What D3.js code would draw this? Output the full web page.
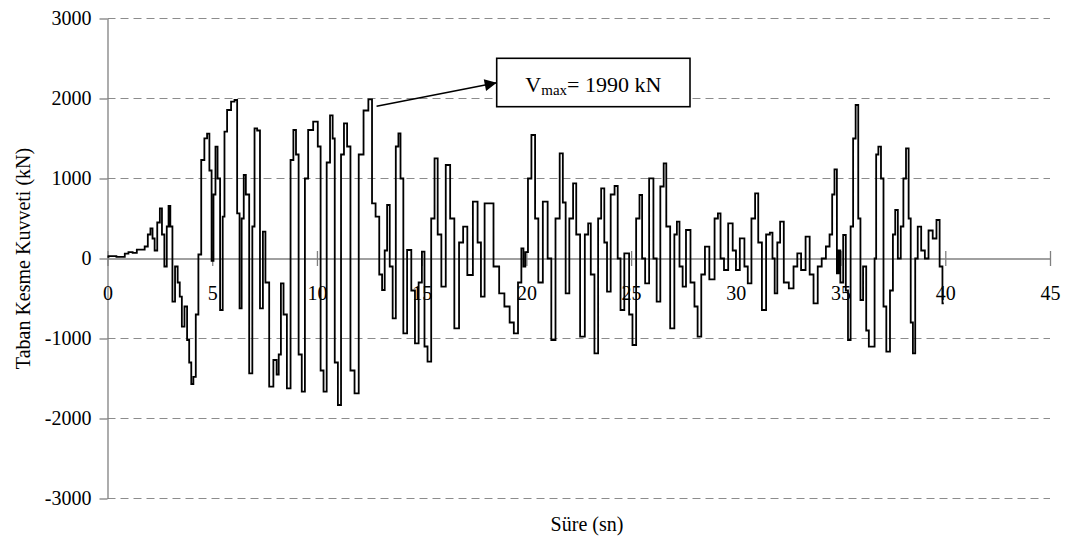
<!DOCTYPE html>
<html>
<head>
<meta charset="utf-8">
<script src="https://cdn.jsdelivr.net/npm/d3@7"></script>
<style>
  body { margin: 0; background: #fff; }
  svg text { font-family: "Liberation Serif", "Times New Roman", serif; }
</style>
</head>
<body>
<div id="chart"></div>
<script>
// time (s) and base shear (kN), turning points
var timeSec = [0, 0.1, 0.75, 0.9, 1.1, 1.3, 1.5, 1.7, 1.85, 2.0, 2.1, 2.2, 2.3, 2.45, 2.55, 2.65, 2.78, 2.88, 2.95, 3.05,
  3.15, 3.3, 3.4, 3.5, 3.6, 3.75, 3.85, 3.95, 4.05, 4.15, 4.28, 4.4, 4.55, 4.7, 4.81, 4.92, 5.02, 5.1, 5.21, 5.3,
  5.45, 5.55, 5.62, 5.8, 6.0, 6.13, 6.25, 6.36, 6.45, 6.56, 6.65, 6.88, 6.95, 7.09, 7.2, 7.36, 7.48, 7.6, 7.84, 8.0,
  8.15, 8.2, 8.36, 8.45, 8.68, 8.8, 8.95, 9.05, 9.2, 9.35, 9.5, 9.66, 9.98, 10.1, 10.25, 10.38, 10.55, 10.7, 10.8, 10.9,
  11.1, 11.2, 11.38, 11.5, 11.7, 11.89, 12.1, 12.35, 12.56, 12.7, 12.9, 13.05, 13.17, 13.3, 13.4, 13.55, 13.68, 13.85, 13.93, 14.05,
  14.2, 14.41, 14.6, 14.76, 14.95, 15.07, 15.2, 15.36, 15.55, 15.68, 15.85, 16.03, 16.27, 16.45, 16.67, 16.9, 17.06, 17.3, 17.59, 17.75,
  17.91, 18.1, 18.26, 18.6, 18.8, 19.1, 19.3, 19.5, 19.7, 19.82, 19.9, 20.0, 20.15, 20.33, 20.5, 20.64, 20.93, 21.1, 21.28, 21.5,
  21.68, 21.8, 21.95, 22.15, 22.31, 22.45, 22.68, 22.9, 23.0, 23.15, 23.35, 23.5, 23.64, 23.8, 23.9, 24.15, 24.27, 24.45, 24.54, 24.81,
  25.0, 25.13, 25.35, 25.45, 25.6, 25.74, 25.98, 26.15, 26.29, 26.5, 26.61, 26.75, 26.98, 27.15, 27.22, 27.4, 27.52, 27.72, 27.95, 28.1,
  28.25, 28.45, 28.6, 28.87, 29.1, 29.19, 29.35, 29.52, 29.75, 29.95, 30.06, 30.32, 30.5, 30.64, 30.85, 30.99, 31.15, 31.34, 31.55, 31.7,
  31.8, 31.91, 32.05, 32.18, 32.4, 32.66, 32.85, 33.02, 33.21, 33.45, 33.6, 33.82, 34.0, 34.2, 34.4, 34.55, 34.65, 34.77, 34.88, 34.93,
  35.05, 35.2, 35.3, 35.41, 35.55, 35.65, 35.79, 35.9, 36.0, 36.15, 36.3, 36.4, 36.6, 36.65, 36.75, 36.86, 37.0, 37.1, 37.27, 37.45,
  37.55, 37.67, 37.8, 37.95, 38.05, 38.2, 38.3, 38.4, 38.51, 38.62, 38.75, 38.95, 39.1, 39.3, 39.5, 39.66, 39.8, 39.93];
var shearKN = [20, 30, 20, 60, 80, 70, 110, 110, 150, 300, 377, 250, 100, 450, 627, 300, -100, 400, 656, 400,
  -540, -100, -300, -477, -852, -600, -1019, -1300, -1569, -1480, -700, 50, 1231, 1502, 1560, 1100, -30, 800, 1398, 1000,
  -644, 523, 1585, 1856, 1960, 1981, 565, -623, 500, 1044, 800, -1435, 400, 1627, 1600, -623, 335, -300, -1602, -1269,
  -1450, -1200, -310, -700, -1623, 1231, 1606, 1300, -1200, -1665, 1000, 1606, 1710, 1400, -1400, -1665, 1200, 1790, 1500, -1300,
  -1831, 1300, 1690, 1400, -1400, -1685, 1300, 1850, 1990, 690, 523, -200, -394, 100, 669, -100, -748, 1400, 1565, 1000,
  -935, 106, -400, -1060, -300, 85, -1100, -1290, 500, 1252, 300, -352, 1169, 500, -873, 200, 398, -206, 710, 200,
  -477, 690, 690, -100, -435, -600, -800, -935, -300, 127, -100, 80, 1000, 1544, 500, -300, 710, 0, -1019, 500,
  1315, 700, -435, 500, 940, 300, -977, 300, 440, -200, -1185, 500, 877, 200, -415, 800, 906, 0, -644, 65,
  -700, -1081, 500, 794, 0, -310, 1002, 0, -540, 900, 1190, 400, -873, 300, 460, -100, -352, 356, -300, -600,
  -977, -200, 148, -260, 500, 565, 0, -144, 440, 100, -144, 252, -100, -310, 500, 815, 200, -644, 300, 323,
  0, -435, 200, 460, -300, -373, -100, 65, -144, 273, -200, -560, -100, 0, 150, 300, 800, 1115, -185, 100,
  -300, 294, -400, -1019, 400, 1500, 1919, 500, -519, -100, -900, -1102, -1102, 0, 1300, 1398, 1000, -600, -1165, -400,
  300, 606, 0, 400, 1000, 1377, 500, -800, -1185, 0, 398, 100, 0, 350, 250, 481, -100, -560];

var xTicks = [0, 5, 10, 15, 20, 25, 30, 35, 40, 45];
var yTicks = [-3000, -2000, -1000, 0, 1000, 2000, 3000];
var peakTime = 12.56, peakValue = 1990;

var width = 1072, height = 538;

var svg = d3.select("#chart").append("svg")
  .attr("width", width)
  .attr("height", height);

var x = d3.scaleLinear().domain([0, 45]).range([107.5, 1050]);
var y = d3.scaleLinear().domain([-3000, 3000]).range([498.5, 18.5]);

// dashed grid
svg.append("g")
  .selectAll("line")
  .data(yTicks.filter(function(d) { return d !== 0; }))
  .enter().append("line")
    .attr("x1", x(0))
    .attr("x2", x(45))
    .attr("y1", function(d) { return y(d); })
    .attr("y2", function(d) { return y(d); })
    .attr("stroke", "#8c8c8c")
    .attr("stroke-width", 1)
    .attr("stroke-dasharray", "8,5");

// y axis
var yAxis = svg.append("g")
  .attr("transform", "translate(" + x(0) + ",0)")
  .call(d3.axisLeft(y).tickValues(yTicks).tickSize(8).tickPadding(8).tickSizeOuter(0)
    .tickFormat(function(d) { return String(d); }));
yAxis.select(".domain").attr("stroke", "#808080").attr("stroke-width", 1.3);
yAxis.selectAll(".tick line").attr("stroke", "#808080").attr("stroke-width", 1.3);
yAxis.selectAll(".tick text")
  .style("font-size", "20px")
  .attr("fill", "#000");

// x axis crossing at zero
var xAxis = svg.append("g")
  .attr("transform", "translate(0," + y(0) + ")")
  .call(d3.axisBottom(x).tickValues(xTicks).tickSizeOuter(0)
    .tickFormat(function(d) { return String(d); }));
xAxis.select(".domain").attr("stroke", "#808080").attr("stroke-width", 1.3);
xAxis.selectAll(".tick line")
  .attr("y1", -7.5)
  .attr("y2", 7.5)
  .attr("stroke", "#808080")
  .attr("stroke-width", 1.3);
xAxis.selectAll(".tick text")
  .attr("y", 41.5)
  .attr("dy", null)
  .style("font-size", "20px")
  .attr("fill", "#000");

// series, drawn as a staircase like the sampled record
var pts = timeSec.map(function(t, i) { return [t, shearKN[i]]; });
var line = d3.line()
  .curve(d3.curveStep)
  .x(function(d) { return x(d[0]); })
  .y(function(d) { return y(d[1]); });

svg.append("path")
  .datum(pts)
  .attr("d", line)
  .attr("fill", "none")
  .attr("stroke", "#000")
  .attr("stroke-width", 1.8)
  .attr("stroke-linejoin", "miter");

// axis titles
svg.append("text")
  .attr("transform", "translate(30," + y(0) + ") rotate(-90)")
  .attr("text-anchor", "middle")
  .style("font-size", "20px")
  .text("Taban Kesme Kuvveti (kN)");

svg.append("text")
  .attr("x", 587)
  .attr("y", 531)
  .attr("text-anchor", "middle")
  .style("font-size", "20px")
  .text("Süre (sn)");

// annotation of the peak
svg.append("defs").append("marker")
  .attr("id", "arrow")
  .attr("viewBox", "0 0 10 10")
  .attr("refX", 10)
  .attr("refY", 5)
  .attr("markerWidth", 16)
  .attr("markerHeight", 12)
  .attr("markerUnits", "userSpaceOnUse")
  .attr("orient", "auto")
  .append("path")
    .attr("d", "M0,0 L10,5 L0,10 Z")
    .attr("fill", "#000");

var boxX = 496.7, boxY = 58.3, boxW = 193.3, boxH = 48.4;

svg.append("line")
  .attr("x1", x(peakTime) + 6)
  .attr("y1", y(peakValue) + 7)
  .attr("x2", boxX)
  .attr("y2", 82.7)
  .attr("stroke", "#000")
  .attr("stroke-width", 1.6)
  .attr("marker-end", "url(#arrow)");

svg.append("rect")
  .attr("x", boxX)
  .attr("y", boxY)
  .attr("width", boxW)
  .attr("height", boxH)
  .attr("fill", "#fff")
  .attr("stroke", "#000")
  .attr("stroke-width", 1.6);

var label = svg.append("text")
  .attr("x", boxX + boxW / 2)
  .attr("y", 91.7)
  .attr("text-anchor", "middle")
  .style("font-size", "22px");
label.append("tspan").text("V");
label.append("tspan").attr("dy", 3).style("font-size", "15px").text("max");
label.append("tspan").attr("dy", -3).text("= " + peakValue + " kN");
</script>
</body>
</html>
